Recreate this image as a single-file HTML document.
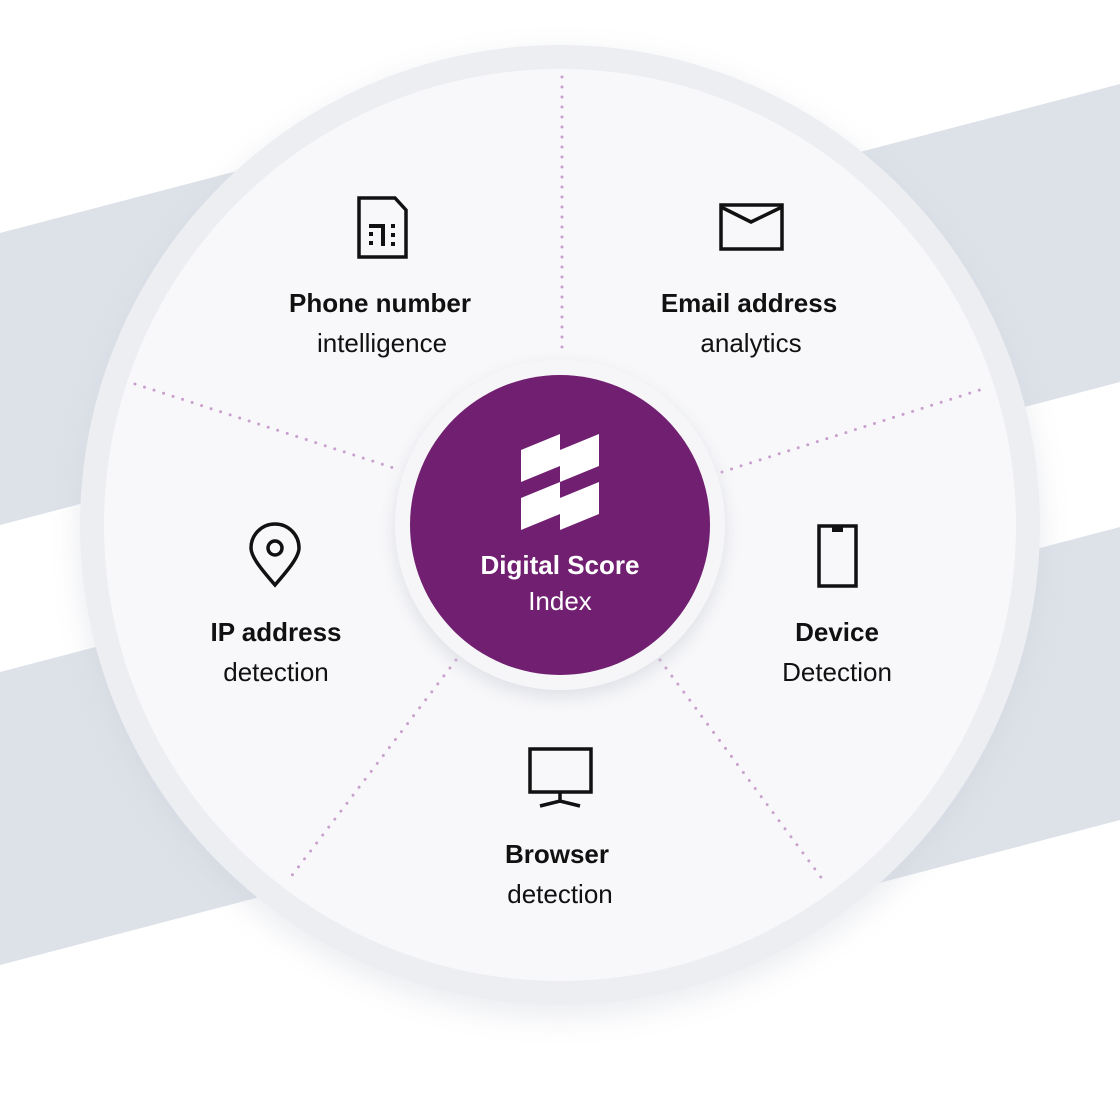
<!DOCTYPE html>
<html><head><style>
html,body{margin:0;padding:0;background:#fff;}
svg{display:block}
text{font-family:"Liberation Sans",sans-serif;}
</style></head><body>
<svg width="1120" height="1112" viewBox="0 0 1120 1112" xmlns="http://www.w3.org/2000/svg">
<defs>
<filter id="sh" x="-20%" y="-20%" width="140%" height="140%"><feGaussianBlur stdDeviation="14"/></filter>
<filter id="sh2" x="-30%" y="-30%" width="160%" height="160%"><feGaussianBlur stdDeviation="8"/></filter>
<clipPath id="L"><rect x="0" y="0" width="560" height="1112"/></clipPath>
<clipPath id="R"><rect x="560" y="0" width="560" height="1112"/></clipPath>
</defs>
<rect width="1120" height="1112" fill="#fff"/>
<g fill="#dde1e8" clip-path="url(#L)">
<polygon points="0,233 1120,-60 1120,232 0,525"/>
<polygon points="0,672 1120,379 1120,672 0,965"/>
</g>
<g fill="#dde1e8" clip-path="url(#R)">
<polygon points="0,377 1120,84 1120,382 0,675"/>
<polygon points="0,820 1120,527 1120,820 0,1113"/>
</g>
<circle cx="560" cy="535" r="482" fill="#c8ccd6" opacity="0.35" filter="url(#sh)"/>
<circle cx="560" cy="525" r="480" fill="#eceef2"/>
<circle cx="560" cy="525" r="456" fill="#f8f8fa"/>
<g stroke="#c9a0cd" stroke-width="3" stroke-dasharray="0 10" stroke-linecap="round" fill="none">
<line x1="562" y1="77" x2="562" y2="352"/>
<line x1="722" y1="472" x2="986" y2="388"/>
<line x1="660" y1="660" x2="823" y2="880"/>
<line x1="456" y1="660" x2="290" y2="878"/>
<line x1="135" y1="384" x2="400" y2="470"/>
</g>
<circle cx="560" cy="532" r="166" fill="#c8ccd6" opacity="0.5" filter="url(#sh2)"/>
<circle cx="560" cy="525" r="165" fill="#f6f6f8"/>
<circle cx="560" cy="525" r="150" fill="#711f71"/>
<g fill="#fff">
<polygon points="521,450 560,434 560,466 521,482"/>
<polygon points="560,450 599,434 599,466 560,482"/>
<polygon points="521,498 560,482 560,514 521,530"/>
<polygon points="560,498 599,482 599,514 560,530"/>
</g>
<text x="560" y="574" fill="#fff" font-size="26" font-weight="bold" text-anchor="middle">Digital Score</text>
<text x="560" y="610" fill="#fff" font-size="26" text-anchor="middle">Index</text>
<g fill="#111" font-size="26" text-anchor="middle">
<text x="380" y="312" font-weight="bold">Phone number</text>
<text x="382" y="352">intelligence</text>
<text x="749" y="312" font-weight="bold">Email address</text>
<text x="751" y="352">analytics</text>
<text x="276" y="641" font-weight="bold">IP address</text>
<text x="276" y="681">detection</text>
<text x="837" y="641" font-weight="bold">Device</text>
<text x="837" y="681">Detection</text>
<text x="557" y="863" font-weight="bold">Browser</text>
<text x="560" y="903">detection</text>
</g>
<g fill="none" stroke="#111" stroke-width="3.5">
<path d="M359,198 H395 L406,210 V257 H359 Z"/>
<path d="M721,205 H782 V249 H721 Z"/>
<path d="M721,207 L751,222 L782,207"/>
<path d="M275,585 C262,570 251,557 251,548 A24,24 0 0 1 299,548 C299,557 288,570 275,585 Z"/>
<circle cx="275" cy="548" r="7"/>
<rect x="819" y="526" width="37" height="60"/>
<rect x="530" y="749" width="61" height="43"/>
<path d="M560,792 V803 M540,806 L560,801 L580,806"/>
</g>
<g fill="#111">
<rect x="832" y="526" width="11" height="6"/>
<rect x="369" y="224" width="16" height="4"/><rect x="381" y="224" width="4" height="22"/>
<rect x="369" y="232" width="4" height="4"/><rect x="369" y="241" width="4" height="4"/>
<rect x="391" y="224" width="4" height="4"/><rect x="391" y="233" width="4" height="4"/><rect x="391" y="242" width="4" height="4"/>
</g>
</svg>
</body></html>
